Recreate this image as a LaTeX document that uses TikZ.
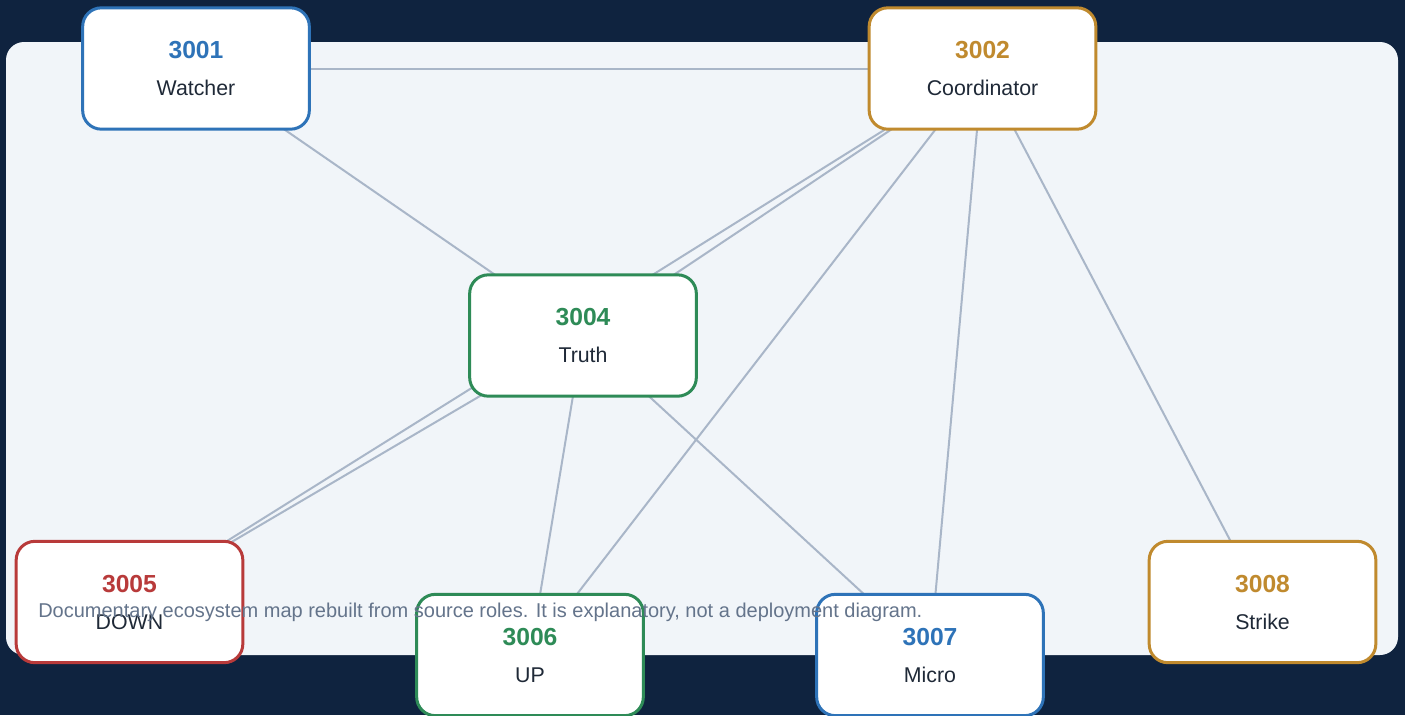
\documentclass[tikz,border=0pt]{standalone}
\usepackage{fontspec}
\setmainfont{Liberation Sans}
\usepackage{tikz}
\usetikzlibrary{positioning, backgrounds}
\definecolor{navy}{HTML}{0F233F}
\definecolor{panel}{HTML}{F1F5F9}
\definecolor{linkgray}{HTML}{A9B6C8}
\definecolor{ink}{HTML}{1F2937}
\definecolor{notegray}{HTML}{64748B}
\definecolor{portblue}{HTML}{2E73B8}
\definecolor{portgold}{HTML}{C08A2E}
\definecolor{portgreen}{HTML}{2E8B57}
\definecolor{portred}{HTML}{B83A3A}
\pgfdeclarelayer{links}
\pgfsetlayers{background,links,main}
\tikzstyle{server} = [rectangle, rounded corners=14pt, minimum width=170pt, minimum height=91pt, inner sep=0pt, align=center, text centered, fill=white, line width=2.25pt, text=ink, font=\fontsize{16pt}{27.75pt}\selectfont]
\tikzstyle{blueserver} = [server, draw=portblue]
\tikzstyle{goldserver} = [server, draw=portgold]
\tikzstyle{greenserver} = [server, draw=portgreen]
\tikzstyle{redserver} = [server, draw=portred]
\tikzstyle{link} = [draw=linkgray, line width=1.5pt]
\tikzstyle{caption} = [anchor=base west, inner sep=0pt, text=notegray, font=\fontsize{15pt}{18pt}\selectfont]
\newcommand{\portno}[2]{{\fontsize{18.5pt}{27.75pt}\selectfont\bfseries\color{#1}#2}}
\begin{document}
\begin{tikzpicture}[x=0.75pt, y=-0.75pt]
% Backdrop and panel
\begin{pgfonlayer}{background}
\fill [navy] (0,0) rectangle (1405,715);
\fill [panel, rounded corners=13.5pt] (6,42) rectangle (1398,655);
\end{pgfonlayer}
\useasboundingbox (0,0) rectangle (1405,715);

% Define nodes - one box per port
\node (watcher) [blueserver] at (196,68.5) {\portno{portblue}{3001}\\Watcher};
\node (coord) [goldserver] at (982.5,68.5) {\portno{portgold}{3002}\\Coordinator};
\node (truth) [greenserver] at (583,335.5) {\portno{portgreen}{3004}\\Truth};
\node (down) [redserver] at (129.5,602) {\portno{portred}{3005}\\DOWN};
\node (up) [greenserver] at (530,655) {\portno{portgreen}{3006}\\UP};
\node (micro) [blueserver] at (930,655) {\portno{portblue}{3007}\\Micro};
\node (strike) [goldserver] at (1262.5,602) {\portno{portgold}{3008}\\Strike};

% Links run centre to centre, under the boxes
\begin{pgfonlayer}{links}
\draw [link] (watcher.center) -- (coord.center);
\draw [link] (watcher.center) -- (truth.center);
\draw [link] (coord.center) -- (truth.center);
\draw [link] (coord.center) -- (down.center);
\draw [link] (coord.center) -- (up.center);
\draw [link] (coord.center) -- (micro.center);
\draw [link] (coord.center) -- (strike.center);
\draw [link] (truth.center) -- (down.center);
\draw [link] (truth.center) -- (up.center);
\draw [link] (truth.center) -- (micro.center);
\end{pgfonlayer}

% Note on top of everything
\node (note) [caption] at (38,617) {Documentary ecosystem map rebuilt from source roles. It is explanatory, not a deployment diagram.};
\end{tikzpicture}
\end{document}
